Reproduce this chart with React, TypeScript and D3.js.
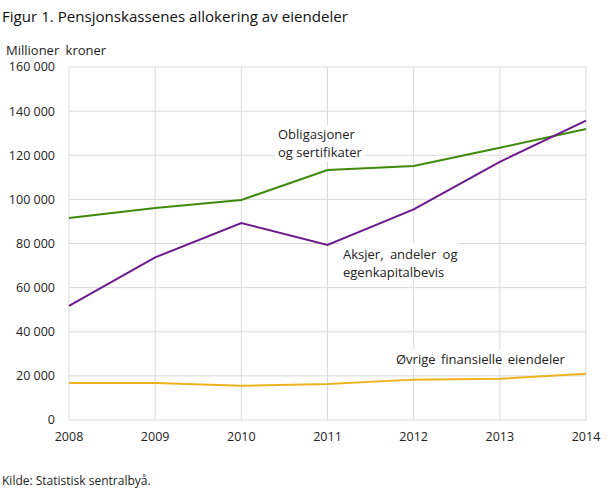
import React from "react";
import * as d3 from "d3";

const years = [2008, 2009, 2010, 2011, 2012, 2013, 2014];
const obligasjoner = [91600, 96100, 99700, 113300, 115100, 123400, 131900];
const aksjer = [51700, 73700, 89300, 79300, 95500, 117000, 135700];
const ovrige = [16800, 16800, 15500, 16300, 18300, 18700, 21000];
const yTicks = [0, 20000, 40000, 60000, 80000, 100000, 120000, 140000, 160000];

const W = 609;
const H = 489;
const font = "'Open Sans', 'Noto Sans', sans-serif";

export default function App() {
  const x = d3.scaleLinear().domain([2008, 2014]).range([69, 586]);
  const y = d3.scaleLinear().domain([0, 160000]).range([420, 67]);
  const line = d3
    .line<number>()
    .x((_, i) => x(years[i]))
    .y((d) => y(d));
  const fmt = (v: number) => d3.format(",")(v).replace(/,/g, " ");

  const series = [
    { data: ovrige, color: "#efb21f" },
    { data: obligasjoner, color: "#3f8a0a" },
    { data: aksjer, color: "#6b1a8c" },
  ];

  const labelStyle = { fontFamily: font, fontSize: 13, fill: "#222" } as React.CSSProperties;

  return (
    <svg
      width={W}
      height={H}
      style={{ position: "absolute", left: 0, top: 0, background: "#fff" }}
    >
      <text x={2} y={22} style={{ fontFamily: font, fontSize: 15.1, fill: "#111" }}>
        Figur 1. Pensjonskassenes allokering av eiendeler
      </text>
      <text x={6} y={55} style={{ fontFamily: font, fontSize: 13, fill: "#222", wordSpacing: 3 }}>
        Millioner kroner
      </text>
      {yTicks.map((t) => (
        <g key={t}>
          <line x1={69} x2={586} y1={y(t)} y2={y(t)} stroke="#d9d9d9" strokeWidth={1} />
          <text
            x={55}
            y={y(t)}
            dy="0.35em"
            textAnchor="end"
            style={{ fontFamily: font, fontSize: 12.5, fill: "#222" }}
          >
            {fmt(t)}
          </text>
        </g>
      ))}
      {years.map((yr) => (
        <g key={yr}>
          <line x1={x(yr)} x2={x(yr)} y1={67} y2={420} stroke="#d9d9d9" strokeWidth={1} />
          <text
            x={x(yr)}
            y={441}
            textAnchor="middle"
            style={{ fontFamily: font, fontSize: 12.5, fill: "#222" }}
          >
            {yr}
          </text>
        </g>
      ))}
      {/* label backgrounds */}
      <rect x={275} y={125} width={90} height={36} fill="#fff" />
      <rect x={340} y={243} width={118} height={36} fill="#fff" />
      <rect x={393} y={349} width={170} height={19} fill="#fff" />
      {series.map((s, i) => (
        <path key={i} d={line(s.data) || ""} fill="none" stroke={s.color} strokeWidth={2} />
      ))}
      <text x={278} y={139} style={labelStyle}>Obligasjoner</text>
      <text x={278} y={157} style={labelStyle}>og sertifikater</text>
      <text x={343} y={259} style={{ ...labelStyle, wordSpacing: 3 }}>Aksjer, andeler og</text>
      <text x={343} y={277} style={labelStyle}>egenkapitalbevis</text>
      <text x={396} y={364} style={{ ...labelStyle, wordSpacing: 2 }}>Øvrige finansielle eiendeler</text>
      <text x={2} y={485} style={{ fontFamily: font, fontSize: 12, fill: "#222" }}>
        Kilde: Statistisk sentralbyå.
      </text>
    </svg>
  );
}
